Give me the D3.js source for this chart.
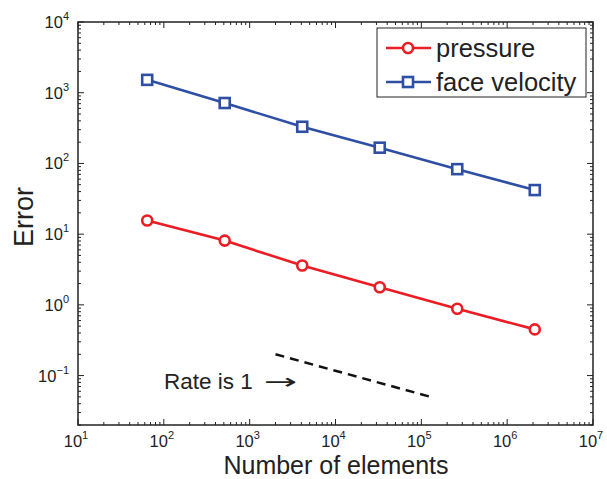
<!DOCTYPE html>
<html lang="en">
<head>
    <meta charset="UTF-8">
    <title>Error vs number of elements</title>
    <script src="https://d3js.org/d3.v7.min.js"></script>
    <style>
        body { margin: 0; background: #fff; }
        svg { font-family: "Liberation Sans", Arial, sans-serif; }
        .tick-lbl { font-size: 16.5px; fill: #222; }
        .tick-lbl tspan.sup { font-size: 11px; }
    </style>
</head>
<body>
    <svg width="607" height="479"></svg>

    <script>
        // Data
        const elements = [64, 512, 4096, 32768, 262144, 2097152];
        const pressure = [15.6, 8.1, 3.6, 1.77, 0.88, 0.45];
        const faceVelocity = [1520, 715, 330, 167, 83, 42];
        const rateLine = [[2000, 0.2], [128000, 0.05]];
        const xDecades = [1, 2, 3, 4, 5, 6, 7];
        const yDecades = [-1, 0, 1, 2, 3, 4];
        const legendNames = ["pressure", "face velocity"];

        const svg = d3.select("svg");
        const pLeft = 78, pRight = 593, pTop = 22, pBottom = 425;

        const x = d3.scaleLog().domain([10, 1e7]).range([pLeft, pRight]);
        const y = d3.scaleLog().domain([0.02, 1e4]).range([pBottom, pTop]);

        // minor ticks (inward, on all four sides)
        const g = svg.append("g").attr("stroke", "#222").attr("stroke-width", 1);
        const xMinor = [], yMinor = [];
        for (let e = 1; e < 7; e++) for (let k = 2; k < 10; k++) xMinor.push(k * Math.pow(10, e));
        for (let e = -2; e < 4; e++) for (let k = 2; k < 10; k++) {
            const v = k * Math.pow(10, e);
            if (v >= 0.02 && v <= 1e4) yMinor.push(v);
        }
        xMinor.forEach(v => {
            g.append("line").attr("x1", x(v)).attr("x2", x(v)).attr("y1", pBottom).attr("y2", pBottom - 3);
            g.append("line").attr("x1", x(v)).attr("x2", x(v)).attr("y1", pTop).attr("y2", pTop + 3);
        });
        yMinor.forEach(v => {
            g.append("line").attr("y1", y(v)).attr("y2", y(v)).attr("x1", pLeft).attr("x2", pLeft + 3);
            g.append("line").attr("y1", y(v)).attr("y2", y(v)).attr("x1", pRight).attr("x2", pRight - 3);
        });
        xDecades.forEach(e => {
            const v = Math.pow(10, e);
            g.append("line").attr("x1", x(v)).attr("x2", x(v)).attr("y1", pBottom).attr("y2", pBottom - 6);
            g.append("line").attr("x1", x(v)).attr("x2", x(v)).attr("y1", pTop).attr("y2", pTop + 6);
        });
        yDecades.forEach(e => {
            const v = Math.pow(10, e);
            g.append("line").attr("y1", y(v)).attr("y2", y(v)).attr("x1", pLeft).attr("x2", pLeft + 6);
            g.append("line").attr("y1", y(v)).attr("y2", y(v)).attr("x1", pRight).attr("x2", pRight - 6);
        });

        // frame
        svg.append("rect")
            .attr("x", pLeft).attr("y", pTop)
            .attr("width", pRight - pLeft).attr("height", pBottom - pTop)
            .attr("fill", "none").attr("stroke", "#222").attr("stroke-width", 1.5);

        // tick labels
        xDecades.forEach(e => {
            const t = svg.append("text").attr("class", "tick-lbl")
                .attr("x", x(Math.pow(10, e)) - 2).attr("y", pBottom + 22)
                .attr("text-anchor", "middle");
            t.append("tspan").text("10");
            t.append("tspan").attr("class", "sup").attr("dy", -8).text(e);
        });
        yDecades.forEach(e => {
            const t = svg.append("text").attr("class", "tick-lbl")
                .attr("x", pLeft - 9).attr("y", y(Math.pow(10, e)) + 6)
                .attr("text-anchor", "end");
            t.append("tspan").text("10");
            t.append("tspan").attr("class", "sup").attr("dy", -8).text(e === -1 ? "\u22121" : e);
        });

        // axis titles
        svg.append("text")
            .attr("x", 336).attr("y", 473.5)
            .attr("text-anchor", "middle")
            .attr("font-size", 25).attr("fill", "#222")
            .text("Number of elements");
        svg.append("text")
            .attr("transform", `translate(33,217) rotate(-90)`)
            .attr("text-anchor", "middle")
            .attr("font-size", 27).attr("fill", "#222")
            .text("Error");

        const line = d3.line().x(d => x(d[0])).y(d => y(d[1]));
        const red = "#ec1c24", blue = "#2e4fa3";

        // series
        const pData = elements.map((n, i) => [n, pressure[i]]);
        const vData = elements.map((n, i) => [n, faceVelocity[i]]);

        svg.append("path").datum(pData).attr("d", line)
            .attr("fill", "none").attr("stroke", red).attr("stroke-width", 2.6);
        svg.selectAll(".pm").data(pData).join("circle")
            .attr("cx", d => x(d[0])).attr("cy", d => y(d[1])).attr("r", 5)
            .attr("fill", "#fff").attr("stroke", red).attr("stroke-width", 2.6);

        svg.append("path").datum(vData).attr("d", line)
            .attr("fill", "none").attr("stroke", blue).attr("stroke-width", 2.6);
        svg.selectAll(".vm").data(vData).join("rect")
            .attr("x", d => x(d[0]) - 5).attr("y", d => y(d[1]) - 5)
            .attr("width", 10).attr("height", 10)
            .attr("fill", "#fff").attr("stroke", blue).attr("stroke-width", 2.6);

        // reference slope
        svg.append("path").datum(rateLine).attr("d", line)
            .attr("fill", "none").attr("stroke", "#111").attr("stroke-width", 2.5)
            .attr("stroke-dasharray", "9,6");
        svg.append("text")
            .attr("x", 164).attr("y", 389)
            .attr("font-size", 22.5).attr("fill", "#222")
            .text("Rate is 1");
        svg.append("text")
            .attr("transform", "translate(264,389) scale(1.9,1)")
            .attr("font-size", 21).attr("fill", "#222")
            .attr("font-family", "DejaVu Sans")
            .text("\u2192");

        // legend
        const lg = svg.append("g");
        lg.append("rect").attr("x", 377).attr("y", 28).attr("width", 209).attr("height", 69)
            .attr("fill", "#fff").attr("stroke", "#222").attr("stroke-width", 1);
        const colors = [red, blue];
        legendNames.forEach((name, i) => {
            const cy = 48 + i * 34;
            lg.append("line").attr("x1", 386).attr("x2", 431).attr("y1", cy).attr("y2", cy)
                .attr("stroke", colors[i]).attr("stroke-width", 2.6);
            if (i === 0) {
                lg.append("circle").attr("cx", 408).attr("cy", cy).attr("r", 5)
                    .attr("fill", "#fff").attr("stroke", colors[i]).attr("stroke-width", 2.6);
            } else {
                lg.append("rect").attr("x", 403).attr("y", cy - 5).attr("width", 10).attr("height", 10)
                    .attr("fill", "#fff").attr("stroke", colors[i]).attr("stroke-width", 2.6);
            }
            lg.append("text").attr("x", 436).attr("y", cy + 9)
                .attr("font-size", 25.5).attr("fill", "#222").text(name);
        });
    </script>
</body>
</html>
